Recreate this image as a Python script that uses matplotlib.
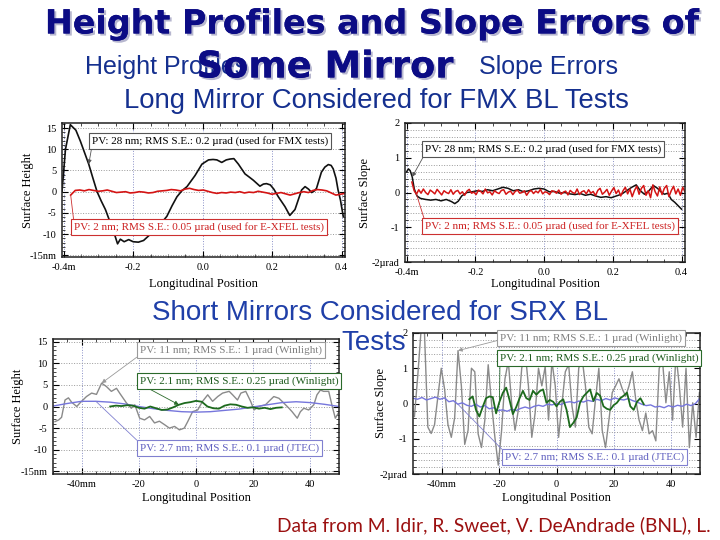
import numpy as np
import matplotlib
matplotlib.use('Agg')
import matplotlib.pyplot as plt
import matplotlib.patheffects as pe
from matplotlib.ticker import MultipleLocator

# ---------------- data ----------------
# Panel 1: long mirror height (FMX, black)
bh_x = [-0.405,-0.395,-0.381,-0.365,-0.352,-0.340,-0.328,-0.316,-0.304,-0.292,-0.280,-0.265,-0.252,-0.245,-0.237,
        -0.226,-0.213,-0.200,-0.185,-0.170,-0.150,-0.125,-0.103,-0.088,-0.074,-0.060,-0.045,-0.022,-0.002,0.017,
        0.030,0.041,0.055,0.068,0.079,0.090,0.103,0.122,0.135,0.146,0.165,0.175,0.184,0.195,0.205,0.218,0.237,
        0.251,0.266,0.285,0.295,0.305,0.314,0.322,0.328,0.342,0.352,0.362,0.370,0.376,0.384,0.390,0.397,0.400,0.405]
bh_y = [0.0,10.0,15.8,14.5,11.9,9.2,6.5,3.2,0.0,-2.2,-4.2,-7.5,-10.5,-12.3,-11.2,-11.8,-11.3,-11.8,-11.9,-11.5,
        -10.0,-8.0,-5.8,-3.3,-1.2,0.2,1.2,3.8,6.5,7.5,7.6,7.5,6.9,7.5,7.7,7.8,6.5,4.2,3.4,2.7,1.3,1.8,1.9,1.6,
        0.6,-1.2,-3.5,-5.6,-4.2,0.4,1.2,0.6,-0.2,0.2,0.8,4.6,5.8,6.4,6.2,5.4,3.2,0.4,-2.0,-3.5,-5.8]
# Panel 1: long mirror height (E-XFEL, red)
rh_range = (-0.38, 0.41)
rh_y = [-0.8,0.3,0.4,0.2,0.5,0.3,0.1,0.2,0.4,0.1,-0.2,-0.1,0.0,-0.3,-0.2,0.0,-0.1,-0.3,-0.2,0.1,0.2,0.3,0.5,0.4,
        0.2,0.6,0.8,0.5,0.3,0.4,0.1,-0.2,-0.4,-0.2,-0.3,-0.1,-0.2,0.0,-0.3,-0.1,-0.2,0.1,-0.1,-0.3,-0.6,-0.4,
        -0.2,-0.5,-0.8,-0.5,-0.2,0.0,-0.2,0.3,0.5,0.4,0.2,-0.3,-0.8,-0.6,-0.4]

# Panel 2: long mirror slope (FMX, black)
bs_x = [-0.400,-0.395,-0.390,-0.384,-0.378,-0.370,-0.360,-0.345,-0.330,-0.315,-0.300,-0.285,-0.270,-0.260,-0.250,
        -0.240,-0.225,-0.210,-0.195,-0.180,-0.165,-0.150,-0.135,-0.120,-0.105,-0.090,-0.075,-0.060,-0.045,-0.030,
        -0.015,0.000,0.015,0.030,0.045,0.060,0.075,0.090,0.105,0.120,0.135,0.150,0.165,0.180,0.195,0.210,0.225,
        0.240,0.255,0.268,0.280,0.292,0.305,0.318,0.330,0.340,0.350,0.360,0.370,0.380,0.390,0.400]
bs_y = [0.60,0.68,0.63,0.45,0.10,-0.10,-0.17,-0.20,-0.22,-0.20,-0.24,-0.20,-0.26,-0.32,-0.25,-0.10,0.00,0.02,
        0.05,0.03,0.08,0.05,0.10,0.15,0.12,0.05,0.08,0.02,0.05,0.10,0.12,0.10,0.02,0.03,-0.02,0.00,-0.04,-0.06,
        -0.03,-0.08,-0.05,-0.10,-0.14,-0.12,-0.15,-0.10,-0.05,0.05,0.15,0.22,0.05,-0.05,0.05,0.20,0.12,0.02,
        -0.05,-0.02,-0.20,-0.28,-0.38,-0.48]
# Panel 2: long mirror slope (E-XFEL, red)
rs_range = (-0.385, 0.41)
rs_y = [0.30,0.05,-0.05,0.08,-0.02,0.10,0.00,-0.06,0.07,0.02,-0.04,0.09,0.01,-0.07,0.05,0.00,-0.03,0.08,-0.05,
        0.03,0.06,-0.04,0.02,-0.08,0.04,0.09,-0.02,0.01,-0.06,0.07,0.03,-0.04,0.10,-0.01,0.02,-0.07,0.05,0.00,
        -0.03,0.06,0.08,-0.05,0.01,0.04,-0.06,0.03,0.07,-0.02,0.00,0.05,-0.08,0.02,0.06,-0.03,0.04,-0.01,0.09,
        -0.04,0.02,0.00,-0.06,0.05,0.03,-0.02,0.07,-0.05,0.01,0.04,-0.07,0.06,0.00,-0.03,0.10,-0.06,0.02,0.05,
        -0.04,0.08,-0.02,0.03,-0.09,0.06,0.12,-0.05,0.01,0.09,-0.08,0.04,0.14,-0.03,0.07,-0.10,0.05,0.15,-0.04,
        0.10,-0.12,0.06,0.18,-0.05,0.12,0.20,-0.08,0.05,-0.15,0.22,0.02,-0.10,0.16,-0.06,0.12,0.20,-0.12,0.05,
        0.18,-0.04,0.10,-0.08,0.15,0.02]

# Panel 3: short mirrors height
gh_x = [-49.3,-48.0,-47.0,-45.8,-44.6,-43.5,-41.7,-40.6,-38.3,-36.5,-34.8,-33.0,-31.3,-29.6,-27.8,-26.6,-24.3,
        -22.6,-21.4,-19.7,-18.0,-16.2,-14.5,-12.8,-11.0,-9.3,-7.5,-5.8,-4.1,-2.9,-1.2,0.6,2.3,4.1,5.8,7.6,9.3,
        11.6,12.8,14.5,15.7,17.4,19.1,20.3,22.0,24.3,25.5,27.2,29.0,30.7,32.5,33.6,35.4,36.5,37.7,39.4,41.2,
        42.3,43.5,44.6,46.4,47.5,48.7,49.8]
gh_y = [-3.5,-3.1,-2.5,1.5,2.0,1.0,0.0,0.8,2.3,3.1,2.8,5.4,4.6,3.5,4.2,3.0,0.8,-0.4,0.4,-2.7,-3.1,-2.3,-3.8,
        -3.4,-4.2,-5.0,-4.6,-5.4,-5.0,-3.5,-1.2,-0.8,1.2,2.7,1.2,2.3,3.1,3.5,2.7,1.5,3.1,3.5,1.2,-0.8,0.0,0.4,
        1.2,2.3,1.9,0.8,-0.4,-1.2,-2.7,-1.2,-0.4,-0.8,0.4,2.7,3.8,3.5,3.5,0.4,-2.7,-1.5]
wh_x = [-30,-28,-26,-24,-22,-20,-18,-16,-14,-12,-10,-8,-6,-4,-2,0,2,4,6,8,10,12,14,16,18,20,22,24,26,28,30]
wh_y = [0.0,0.2,0.1,0.3,0.2,-0.3,-0.5,0.0,-0.4,-0.8,-0.7,-0.2,0.4,0.8,1.0,1.3,1.1,0.0,-0.4,-0.5,0.2,0.5,0.4,
        0.0,-0.3,-0.2,-0.5,-0.3,-0.6,-0.3,-0.2]
jh_x = [-50,-45,-40,-35,-30,-25,-20,-15,-10,-5,0,5,10,15,20,25,30,35,40,45,50]
jh_y = [0.1,0.7,1.2,1.2,1.0,0.6,0.0,-0.5,-0.9,-1.2,-1.3,-1.2,-0.9,-0.6,-0.1,0.4,0.9,1.1,0.9,0.5,0.0]

# Panel 4: short mirrors slope
gs_range = (-49.5, 49.8)
gs_y = [-0.37,0.80,2.10,2.00,-0.67,-0.85,-0.60,0.20,1.00,0.40,-0.60,-0.96,-0.40,1.50,0.50,-1.16,-0.76,1.00,
        0.90,-0.86,-1.25,-0.47,1.10,0.00,-0.96,-1.75,-0.76,0.70,1.20,0.00,-0.76,-0.18,1.00,1.50,0.50,-0.96,
        -0.27,1.00,0.50,1.05,-0.47,1.20,0.50,-0.96,0.00,0.90,1.10,-0.08,-0.67,1.00,1.30,0.50,-0.67,-0.86,0.12,
        1.00,-0.76,-1.25,-0.47,0.31,0.50,0.70,0.41,0.21,0.50,0.90,0.12,-0.47,-0.77,-0.27,-0.86,-0.77,-1.06,
        1.00,1.20,0.02,0.90,-0.47,1.40,0.50,-0.67,1.00,-1.25,0.02,-0.96,0.31]
ws_range = (-30.4, 30.4)
ws_y = [0.12,0.20,-0.18,-0.37,-0.10,0.15,0.20,0.18,-0.28,0.05,0.30,0.45,0.10,-0.30,-0.10,0.15,0.36,0.15,0.10,
        0.36,0.25,0.35,0.40,0.02,0.10,0.05,-0.08,0.05,0.12,-0.18,-0.67,-0.55,-0.40,0.02,0.20,0.30,0.40,0.07,
        0.30,0.22,-0.08,-0.15,-0.18,-0.05,0.02,0.15,0.22,0.31,-0.08,-0.18,0.05,0.15,-0.02]
js_range = (-50.0, 50.0)
js_y = [0.15,0.12,0.17,0.10,0.14,0.18,0.12,0.16,0.05,0.08,-0.02,0.02,-0.05,-0.08,-0.02,-0.10,-0.06,-0.15,-0.12,
        -0.20,-0.18,-0.22,-0.16,-0.20,-0.14,-0.10,-0.14,-0.08,-0.05,-0.08,-0.02,-0.04,0.00,-0.03,0.03,0.05,0.02,
        0.07,0.04,0.09,0.06,0.12,0.08,0.14,0.10,0.16,0.12,0.10,0.14,0.08,0.04,-0.02,-0.06,-0.04,-0.10,-0.08,
        -0.12,-0.06,-0.10,-0.05,-0.08,-0.02,-0.06,0.00,0.15]

# ticks
long_xticks = [-0.4, -0.2, 0.0, 0.2, 0.4]
long_xlabels = ['-0.4m', '-0.2', '0.0', '0.2', '0.4']
short_xticks = [-40, -20, 0, 20, 40]
short_xlabels = ['-40mm', '-20', '0', '20', '40']
h_yticks = [15, 10, 5, 0, -5, -10, -15]
h_ylabels = ['15', '10', '5', '0', '-5', '-10', '-15nm']
s_yticks = [2, 1, 0, -1, -2]
s_ylabels = ['2', '1', '0', '-1', '-2\u00b5rad']

ann_fmx = 'PV: 28 nm; RMS S.E.: 0.2 \u00b5rad (used for FMX tests)'
ann_xfel = 'PV: 2 nm; RMS S.E.: 0.05 \u00b5rad (used for E-XFEL tests)'
ann_w1 = 'PV: 11 nm; RMS S.E.: 1 \u00b5rad (Winlight)'
ann_w2 = 'PV: 2.1 nm; RMS S.E.: 0.25 \u00b5rad (Winlight)'
ann_j = 'PV: 2.7 nm; RMS S.E.: 0.1 \u00b5rad (JTEC)'

# ---------------- style ----------------
plt.rcParams['font.family'] = ['Liberation Serif', 'DejaVu Serif']
C_BLACK = '#111111'
C_RED = '#d41414'
C_GRAY = '#8a8a8a'
C_GREEN = '#1d6a1d'
C_BLUE = '#7676dc'

fig = plt.figure(figsize=(7.2, 5.4), dpi=100)
fig.patch.set_facecolor('white')


def style(ax, xlim, ylim, xt, xl, yt, yl, xm, ym, minor_hgrid, xlab_y, ylab_x):
    ax.set_xlim(*xlim)
    ax.set_ylim(*ylim)
    ax.set_xticks(xt)
    ax.set_xticklabels(xl)
    ax.set_yticks(yt)
    ax.set_yticklabels(yl)
    ax.xaxis.set_minor_locator(MultipleLocator(xm))
    ax.yaxis.set_minor_locator(MultipleLocator(ym))
    ax.tick_params(which='both', direction='in', top=True, right=True, labelsize=7.5, pad=4)
    ax.tick_params(which='major', length=4, width=0.8)
    ax.tick_params(which='minor', length=2, width=0.5)
    ax.grid(axis='x', which='major', ls=':', color='#8a90c8', lw=0.7)
    ax.grid(axis='y', which='minor' if minor_hgrid else 'major', ls=':', color='#9a9a9a', lw=0.7)
    for s in ax.spines.values():
        s.set_linewidth(1.1)
        s.set_color('#222222')
    ax.set_xlabel('Longitudinal Position', fontsize=9)
    ax.set_ylabel('Surface Height' if 'nm' in yl[-1] else 'Surface Slope', fontsize=9)
    ax.xaxis.set_label_coords(0.5, xlab_y)
    ax.yaxis.set_label_coords(ylab_x, 0.5)


def box(ax, text, xy, xytext, tc, ec, relpos, arrow=True, fs=8):
    ax.annotate(text, xy=xy, xycoords='data', xytext=xytext, textcoords='axes fraction',
                fontsize=fs, ha='left', va='center', color=tc, zorder=6, annotation_clip=False,
                bbox=dict(boxstyle='square,pad=0.25', fc='white', ec=ec, lw=0.8),
                arrowprops=dict(arrowstyle='-|>' if arrow else '-', color=ec, lw=0.6,
                                mutation_scale=6, shrinkA=0, shrinkB=0, relpos=relpos))


# ---- Panel 1
ax1 = fig.add_axes([62/720, 1-257/540, 283/720, 134/540])
ax1.plot(bh_x, bh_y, color=C_BLACK, lw=1.2)
rh_x = np.linspace(rh_range[0], rh_range[1], len(rh_y))
ax1.plot(rh_x, rh_y, color=C_RED, lw=1.2)
style(ax1, (-0.405, 0.41), (-15.4, 16.2), long_xticks, long_xlabels, h_yticks, h_ylabels,
      0.05, 1, False, -0.16, -0.10)
box(ax1, ann_fmx, (bh_x[6], bh_y[6]), (0.106, 0.866), 'black', '#555555', (0, 0))
box(ax1, ann_xfel, (rh_x[0], rh_y[0]), (0.042, 0.224), '#cc2020', '#cc3030', (0, 1), arrow=False)

# ---- Panel 2
ax2 = fig.add_axes([405/720, 1-262/540, 280/720, 139/540])
ax2.plot(bs_x, bs_y, color=C_BLACK, lw=1.1)
rs_x = np.linspace(rs_range[0], rs_range[1], len(rs_y))
ax2.plot(rs_x, rs_y, color=C_RED, lw=1.1)
style(ax2, (-0.405, 0.41), (-2.0, 2.0), long_xticks, long_xlabels, s_yticks, s_ylabels,
      0.05, 0.2, True, -0.115, -0.12)
box(ax2, ann_fmx, (bs_x[3], bs_y[3]), (0.071, 0.813), 'black', '#555555', (0, 0))
box(ax2, ann_xfel, (rs_x[2], rs_y[2]), (0.071, 0.259), '#cc2020', '#cc3030', (0, 1), arrow=False)

# ---- Panel 3
ax3 = fig.add_axes([53/720, 1-474/540, 286/720, 135/540])
ax3.plot(gh_x, gh_y, color=C_GRAY, lw=1.0)
ax3.plot(jh_x, jh_y, color=C_BLUE, lw=1.0)
ax3.plot(wh_x, wh_y, color=C_GREEN, lw=1.3)
style(ax3, (-50, 50), (-15.6, 15.6), short_xticks, short_xlabels, h_yticks, h_ylabels,
      5, 1, False, -0.13, -0.10)
box(ax3, ann_w1, (gh_x[11], gh_y[11]), (0.304, 0.918), '#808080', '#9a9a9a', (0, 0))
box(ax3, ann_w2, (wh_x[12], wh_y[12]), (0.304, 0.689), '#1d5a1d', '#2a6a2a', (0, 0.2))
box(ax3, ann_j, (jh_x[3], jh_y[3]), (0.304, 0.193), '#6060c0', '#8080d0', (0, 1), arrow=False)

# ---- Panel 4
ax4 = fig.add_axes([413/720, 1-474/540, 287/720, 141/540])
gs_x = np.linspace(gs_range[0], gs_range[1], len(gs_y))
ws_x = np.linspace(ws_range[0], ws_range[1], len(ws_y))
js_x = np.linspace(js_range[0], js_range[1], len(js_y))
ax4.plot(gs_x, gs_y, color=C_GRAY, lw=1.0)
ax4.plot(js_x, js_y, color=C_BLUE, lw=1.0)
ax4.plot(ws_x, ws_y, color=C_GREEN, lw=1.3)
style(ax4, (-50, 50), (-2.0, 2.0), short_xticks, short_xlabels, s_yticks, s_ylabels,
      5, 0.2, True, -0.125, -0.09)
box(ax4, ann_w1, (gs_x[13], gs_y[13]), (0.303, 0.965), '#808080', '#9a9a9a', (0, 0.3))
box(ax4, ann_w2, (ws_x[9], ws_y[9]), (0.303, 0.823), '#1d5a1d', '#2a6a2a', (0, 0), arrow=False)
box(ax4, ann_j, (js_x[10], js_y[10]), (0.32, 0.12), '#6060c0', '#8080d0', (0, 1), arrow=False)

# ---------------- slide text ----------------
SANS = ['Liberation Sans', 'DejaVu Sans']
BOLD = ['DejaVu Sans']
NAVY = '#0c0c85'
TXT = '#15308f'
shadow = [pe.withSimplePatchShadow(offset=(1.5, -1.5), shadow_rgbFace='#9999bb', alpha=0.7), pe.Normal()]
fig.text(372/720, 1-24/540, 'Height Profiles and Slope Errors of', ha='center', va='center',
         fontsize=24, weight='bold', color=NAVY, family=BOLD, path_effects=shadow)
fig.text(85/720, 1-67/540, 'Height Profiles', ha='left', va='center', fontsize=18,
         color=TXT, family=SANS)
fig.text(618/720, 1-67/540, 'Slope Errors', ha='right', va='center', fontsize=18,
         color=TXT, family=SANS)
fig.text(325/720, 1-67/540, 'Some Mirror', ha='center', va='center', fontsize=26.5, weight='bold',
         color=NAVY, family=BOLD, path_effects=shadow, zorder=5)
fig.text(376/720, 1-101/540, 'Long Mirror Considered for FMX BL Tests', ha='center', va='center',
         fontsize=19.8, color=TXT, family=SANS)
fig.text(380/720, 1-313/540, 'Short Mirrors Considered for SRX BL', ha='center', va='center',
         fontsize=20, color='#1f3fa8', family=SANS, zorder=8)
fig.text(374/720, 1-343/540, 'Tests', ha='center', va='center',
         fontsize=20, color='#1f3fa8', family=SANS, zorder=8)
fig.text(277/720, 1-525/540, 'Data from M. Idir, R. Sweet, V. DeAndrade (BNL), L.', ha='left', va='center',
         fontsize=13.9, color='#9b1010', family=['Lato', 'DejaVu Sans'])

fig.savefig('out.png', dpi=100)
